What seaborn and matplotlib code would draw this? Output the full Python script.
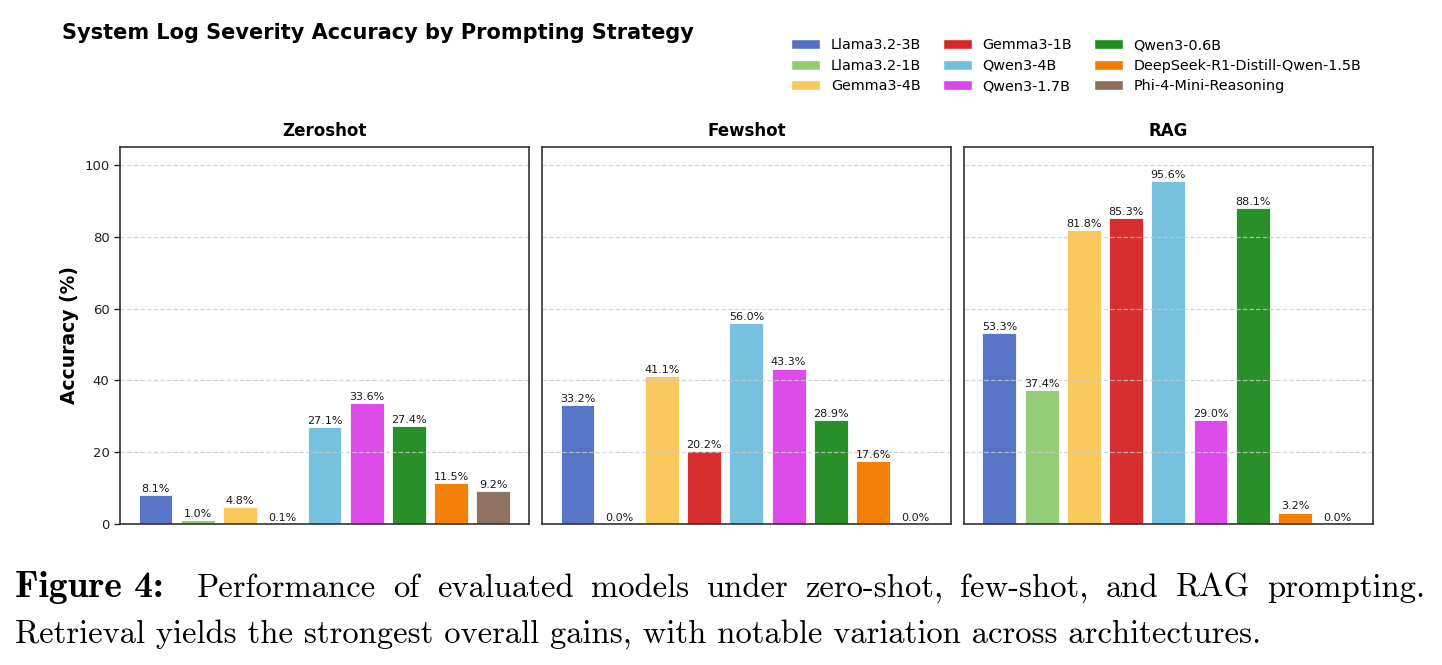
import pandas as pd
import numpy as np
import matplotlib
matplotlib.use('Agg')
import matplotlib.pyplot as plt
from matplotlib.patches import Patch
import seaborn as sns

# data
models = ['Llama3.2-3B', 'Llama3.2-1B', 'Gemma3-4B', 'Gemma3-1B', 'Qwen3-4B',
          'Qwen3-1.7B', 'Qwen3-0.6B', 'DeepSeek-R1-Distill-Qwen-1.5B', 'Phi-4-Mini-Reasoning']
strategies = ['Zeroshot', 'Fewshot', 'RAG']
zeroshot = [8.1, 1.0, 4.8, 0.1, 27.1, 33.6, 27.4, 11.5, 9.2]
fewshot = [33.2, 0.0, 41.1, 20.2, 56.0, 43.3, 28.9, 17.6, 0.0]
rag = [53.3, 37.4, 81.8, 85.3, 95.6, 29.0, 88.1, 3.2, 0.0]
colors = ['#5470c6', '#91cb74', '#fac858', '#d62728', '#73c0de',
          '#dc45ea', '#228b22', '#f57c00', '#8c6d5e']

caption_label = 'Figure 4:'
caption_line1 = 'Performance of evaluated models under zero-shot, few-shot, and RAG prompting.'
caption_line2 = 'Retrieval yields the strongest overall gains, with notable variation across architectures.'

df = pd.DataFrame({
    'model': models * 3,
    'strategy': np.repeat(strategies, len(models)),
    'accuracy': zeroshot + fewshot + rag,
})
palette = dict(zip(models, colors))

sns.set_style('white')
plt.rcParams['font.family'] = ['DejaVu Sans']
plt.rcParams['axes.axisbelow'] = 'line'
plt.rcParams['text.color'] = 'black'

fig, axes = plt.subplots(1, 3, figsize=(14.42, 6.65), dpi=100, sharey=True)
fig.subplots_adjust(left=0.0832, right=0.952, top=0.779, bottom=0.212, wspace=0.032)

for ax, strat in zip(axes, strategies):
    sub = df[df['strategy'] == strat]
    sns.barplot(data=sub, x='model', y='accuracy', hue='model', order=models,
                hue_order=models, palette=palette, legend=False, ax=ax,
                width=0.8, saturation=1, edgecolor='white', linewidth=0.6,
                alpha=0.97, errorbar=None)
    for p, v in zip(ax.patches, sub['accuracy']):
        ax.text(p.get_x() + p.get_width() / 2, p.get_height() + 0.3, f'{v:.1f}%',
                ha='center', va='bottom', fontsize=8, color='#1a1a1a')
    ax.set_xlim(-0.84, 8.84)
    ax.set_ylim(0, 105)
    ax.set_title(strat, fontsize=12, fontweight='bold', pad=8, color='black')
    ax.set_xlabel('')
    ax.set_ylabel('')
    ax.set_xticks([])
    ax.yaxis.grid(True, linestyle='--', color='#cccccc', alpha=0.75, linewidth=0.9)
    ax.xaxis.grid(False)
    for s in ax.spines.values():
        s.set_visible(True)
        s.set_color('#333333')
        s.set_linewidth(1.2)

axes[0].set_ylabel('Accuracy (%)', fontsize=13.5, fontweight='bold', color='black')
axes[0].set_yticks([0, 20, 40, 60, 80, 100])
axes[0].tick_params(axis='y', which='both', left=True, length=4, width=1, labelsize=9.5,
                    colors='#222222')
for ax in axes[1:]:
    ax.tick_params(axis='y', left=False, labelleft=False)

fig.text(0.043, 0.95, 'System Log Severity Accuracy by Prompting Strategy',
         fontsize=15, fontweight='bold', ha='left', va='center')

handles = [Patch(facecolor=c, label=m) for m, c in zip(models, colors)]
fig.legend(handles=handles, loc='upper right', bbox_to_anchor=(0.953, 0.962), ncol=3,
           frameon=False, fontsize=10.4, handlelength=2.0, handleheight=0.7,
           handletextpad=0.75, columnspacing=1.5, labelspacing=0.45)

# caption under the figure, first line justified like the paper
W = 1442
fig.text(15 / W, 0.103, caption_label, fontfamily='cmb10', fontsize=27,
         ha='left', va='baseline')
renderer = fig.canvas.get_renderer()
words = caption_line1.split(' ')
txts = [fig.text(0, 0.103, w, fontfamily='cmr10', fontsize=23.5, ha='left', va='baseline')
        for w in words]
widths = [t.get_window_extent(renderer).width for t in txts]
x0, x1 = 197, 1425
gap = (x1 - x0 - sum(widths)) / (len(words) - 1)
x = x0
for t, w in zip(txts, widths):
    t.set_x(x / W)
    x += w + gap
fig.text(15 / W, 0.033, caption_line2, fontfamily='cmr10', fontsize=23.5,
         ha='left', va='baseline')

fig.savefig('out.png', dpi=100)
